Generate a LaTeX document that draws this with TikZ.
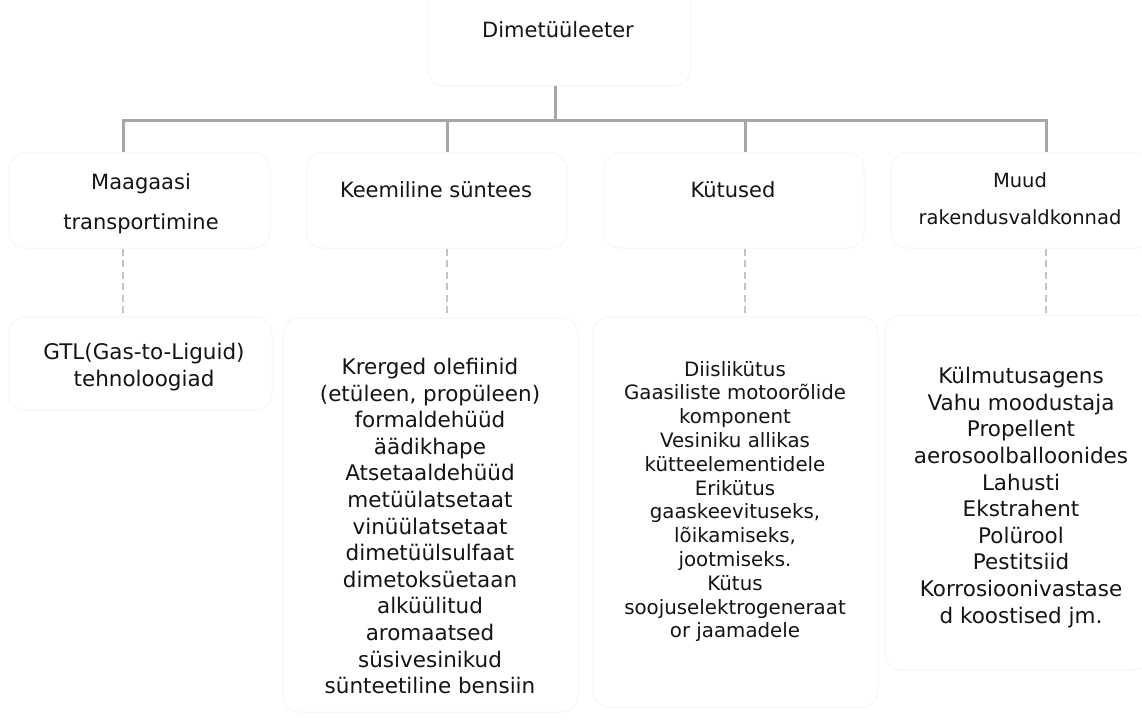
\documentclass[tikz,border=0pt]{standalone}
\usepackage{fontspec}
\setmainfont{DejaVu Sans}
\definecolor{boxline}{RGB}{245,245,245}
\definecolor{conn}{RGB}{166,166,166}
\definecolor{dconn}{RGB}{196,196,196}
\definecolor{txt}{RGB}{20,20,20}
\begin{document}
\begin{tikzpicture}[x=1pt,y=-1pt,
  box/.style={draw=boxline, line width=1pt, rounded corners=16pt, inner sep=0pt},
  solidc/.style={draw=conn, line width=3pt},
  dashc/.style={draw=dconn, line width=2pt, dash pattern=on 7pt off 4.5pt},
  lbl/.style={text=txt, align=center, inner sep=0pt, font=\fontsize{21}{26}\selectfont},
  lbltwo/.style={text=txt, align=center, inner sep=0pt},
  item/.style={text=txt, align=center, inner sep=0pt, font=\fontsize{21.5}{26.6}\selectfont}]
\useasboundingbox (0,0) rectangle (1142,722);

% boxes
\node[box, minimum width=262pt, minimum height=106pt] (b0) at (559,33) {};
\node[box, minimum width=261pt, minimum height=95pt] (b1) at (139.5,200.5) {};
\node[box, minimum width=261pt, minimum height=95pt] (b2) at (436.5,200.5) {};
\node[box, minimum width=260pt, minimum height=95pt] (b3) at (734,200.5) {};
\node[box, minimum width=261pt, minimum height=95pt] (b4) at (1021.5,200.5) {};
\node[box, minimum width=263pt, minimum height=93pt] (g1) at (140.5,363.5) {};
\node[box, minimum width=295pt, minimum height=394pt] (g2) at (430.5,515) {};
\node[box, minimum width=285pt, minimum height=390pt] (g3) at (735.5,512) {};
\node[box, minimum width=265pt, minimum height=355pt] (g4) at (1017.5,492.5) {};

% texts
\node[lbl] (t0) at (558,30) {Dimetüüleeter};
\node[lbltwo, font=\fontsize{21}{40}\selectfont] (t1) at (141,204) {Maagaasi\\transportimine};
\node[lbl] (t2) at (436,190) {Keemiline süntees};
\node[lbl] (t3) at (733,190) {Kütused};
\node[lbltwo, font=\fontsize{19.5}{37}\selectfont] (t4) at (1020,199) {Muud\\rakendusvaldkonnad};

\node[item, font=\fontsize{21.5}{27}\selectfont] (u1) at (144,367) {GTL(Gas-to-Liguid)\\tehnoloogiad};
\node[item] (u2) at (430,526) {Krerged olefiinid\\(etüleen, propüleen)\\formaldehüüd\\äädikhape\\Atsetaaldehüüd\\metüülatsetaat\\vinüülatsetaat\\dimetüülsulfaat\\dimetoksüetaan\\alküülitud\\aromaatsed\\süsivesinikud\\sünteetiline bensiin};
\node[item, font=\fontsize{19.8}{23.8}\selectfont] (u3) at (735,501.5) {Diislikütus\\Gaasiliste motoorõlide\\komponent\\Vesiniku allikas\\kütteelementidele\\Erikütus\\gaaskeevituseks,\\lõikamiseks,\\jootmiseks.\\Kütus\\soojuselektrogeneraat\\or jaamadele};
\node[item] (u4) at (1021,497.5) {Külmutusagens\\Vahu moodustaja\\Propellent\\aerosoolballoonides\\Lahusti\\Ekstrahent\\Polürool\\Pestitsiid\\Korrosioonivastase\\d koostised jm.};

% connectors
\coordinate (hub) at (555,121);
\coordinate (j1) at (123,121);
\coordinate (j2) at (447,121);
\coordinate (j3) at (745,121);
\coordinate (j4) at (1046,121);
\draw[solidc] (hub |- b0.south) -- (hub);
\draw[solidc] (j1 |- b1.north) -- (j1) -- (j4) -- (j4 |- b4.north);
\draw[solidc] (j2) -- (j2 |- b2.north);
\draw[solidc] (j3) -- (j3 |- b3.north);
\draw[dashc] (j1 |- b1.south) -- (j1 |- g1.north);
\draw[dashc] (j2 |- b2.south) -- (j2 |- g2.north);
\draw[dashc] (j3 |- b3.south) -- (j3 |- g3.north);
\draw[dashc] (j4 |- b4.south) -- (j4 |- g4.north);
\end{tikzpicture}
\end{document}
